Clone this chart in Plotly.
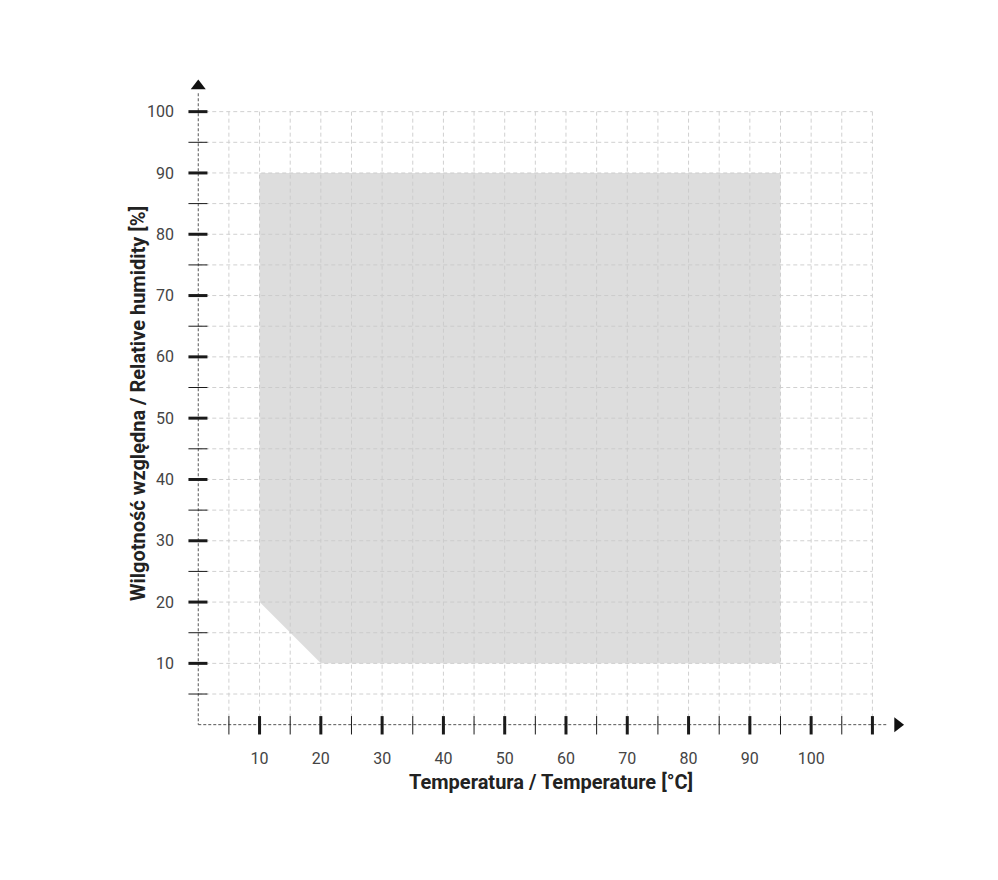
import plotly.graph_objects as go

# operating area (temperature degC, relative humidity %)
area_t = [10, 10, 95, 95, 20, 10]
area_rh = [20, 90, 90, 10, 10, 20]

x_labels = [10, 20, 30, 40, 50, 60, 70, 80, 90, 100]
y_labels = [10, 20, 30, 40, 50, 60, 70, 80, 90, 100]
x_grid = [5 * i for i in range(1, 23)]   # 5..110
y_grid = [5 * i for i in range(1, 21)]   # 5..100
X_MAX, Y_MAX = 110, 100

fig = go.Figure()

# dashed grid
gx, gy = [], []
for v in x_grid:
    gx += [v, v, None]; gy += [0, Y_MAX, None]
for v in y_grid:
    gx += [0, X_MAX, None]; gy += [v, v, None]
fig.add_trace(go.Scatter(x=gx, y=gy, mode="lines",
                         line=dict(color="#d0d0d0", width=1, dash="4px,3px"),
                         hoverinfo="skip"))

fig.add_trace(go.Scatter(x=area_t, y=area_rh, fill="toself", mode="none",
                         fillcolor="rgba(200,200,200,0.62)", hoverinfo="skip"))

# axis lines
fig.add_trace(go.Scatter(x=[0, 0, None, 0, 112.5], y=[103, 0, None, 0, 0], mode="lines",
                         line=dict(color="#555", width=1, dash="3px,2px"), hoverinfo="skip"))

# ticks
def ticks(vals, horizontal):
    xs, ys = [], []
    for v in vals:
        if horizontal:
            xs += [v, v, None]; ys += [-1.6, 1.4, None]
        else:
            xs += [-1.6, 1.5, None]; ys += [v, v, None]
    return xs, ys

minor_x = [v for v in x_grid if v % 10]
major_x = [v for v in x_grid if v % 10 == 0]
minor_y = [v for v in y_grid if v % 10]
major_y = [v for v in y_grid if v % 10 == 0]
for vals, maj, hor in [(minor_x, False, True), (major_x, True, True),
                       (minor_y, False, False), (major_y, True, False)]:
    xs, ys = ticks(vals, hor)
    fig.add_trace(go.Scatter(x=xs, y=ys, mode="lines",
                             line=dict(color="#1a1a1a", width=3 if maj else 1),
                             hoverinfo="skip"))

# arrow heads
fig.add_trace(go.Scatter(x=[0, 114.1], y=[104.2, 0], mode="markers",
                         marker=dict(symbol=["triangle-up", "triangle-right"],
                                     size=13, color="#111"),
                         hoverinfo="skip", cliponaxis=False))

font_lab = dict(family="Roboto, sans-serif", size=16, color="#444")
fig.update_layout(
    width=998, height=880, showlegend=False,
    plot_bgcolor="white", paper_bgcolor="white",
    margin=dict(l=178, r=106, t=73, b=148, autoexpand=False),
    xaxis=dict(range=[-2, 114.5], tickvals=x_labels, showgrid=False, zeroline=False,
               showline=False, ticks="", tickfont=font_lab, ticklabelstandoff=7),
    yaxis=dict(range=[-2.5, 105], tickvals=y_labels, showgrid=False, zeroline=False,
               showline=False, ticks="", tickfont=font_lab, ticklabelstandoff=11),
    annotations=[
        dict(text="<b>Temperatura / Temperature [°C]</b>", xref="paper", yref="paper",
             x=(543 - 178) / 714, y=-(788 - 732) / 659, showarrow=False,
             font=dict(family="Roboto, sans-serif", size=20, color="#222")),
        dict(text="<b>Wilgotność względna / Relative humidity [%]</b>", xref="paper",
             yref="paper", x=-(178 - 116) / 714, y=(732 - 396) / 659, showarrow=False,
             textangle=-90, font=dict(family="Roboto, sans-serif", size=20, color="#222")),
    ],
)

fig.write_html("out.html")
